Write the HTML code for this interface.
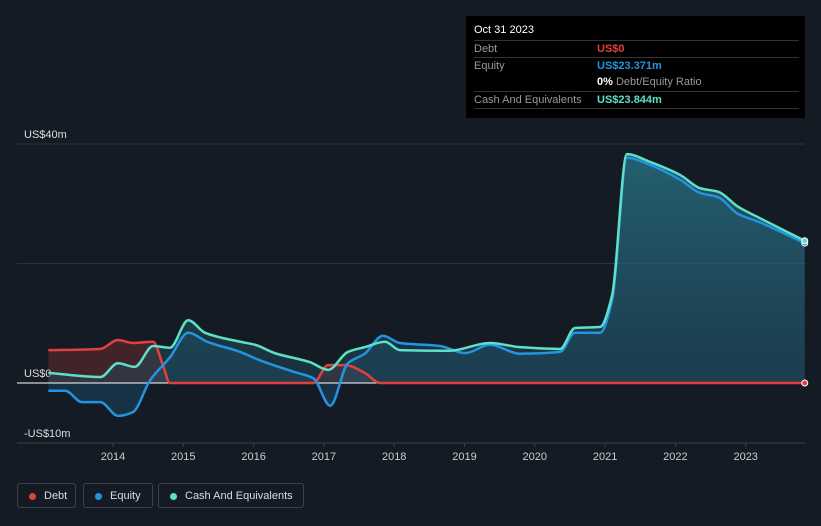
<!DOCTYPE html>
<html><head><meta charset="utf-8"><style>
body{margin:0;background:#151b24;font-family:"Liberation Sans",sans-serif;}
#wrap{position:relative;width:821px;height:526px;overflow:hidden;background:#151b24}
.tt{position:absolute;left:466px;top:16px;width:339px;height:102px;background:#000;color:#ccc;font-size:11px}
.tt .r{position:absolute;left:8px;width:325px;border-top:1px solid #333;height:16px;line-height:16px}
.leg{position:absolute;top:483px;height:25px;border:1px solid #3a414c;border-radius:3px;color:#ddd;font-size:11px;line-height:25px;box-sizing:border-box;padding-left:26px}
.leg i{position:absolute;left:11px;top:9px;width:7px;height:7px;border-radius:50%}
</style></head><body><div id="wrap">
<svg id="svg" width="821" height="526" style="position:absolute;left:0;top:0">
<defs><linearGradient id="gc" x1="0" y1="0" x2="0" y2="1"><stop offset="0" stop-color="#2d7f8c" stop-opacity="0.6"/><stop offset="1" stop-color="#1f4a5a" stop-opacity="0.45"/></linearGradient></defs>
</svg>
<div class="tt">
<div style="position:absolute;left:8px;top:8px;color:#fff;font-size:11px">Oct 31 2023</div>
<div class="r" style="top:24px"><span style="color:#999">Debt</span><span style="position:absolute;left:123px;color:#e0403e;font-weight:bold">US$0</span></div>
<div class="r" style="top:41px"><span style="color:#999">Equity</span><span style="position:absolute;left:123px;color:#2394df;font-weight:bold">US$23.371m</span></div>
<div class="r" style="top:58px;border-top:none"><span style="position:absolute;left:123px;color:#999"><b style="color:#fff">0%</b> Debt/Equity Ratio</span></div>
<div class="r" style="top:75px"><span style="color:#999">Cash And Equivalents</span><span style="position:absolute;left:123px;color:#5de0c6;font-weight:bold">US$23.844m</span></div>
<div class="r" style="top:92px;height:0"></div>
</div>
<div class="leg" style="left:17px;width:59px"><i style="background:#e0403e"></i>Debt</div>
<div class="leg" style="left:83px;width:70px"><i style="background:#2394df"></i>Equity</div>
<div class="leg" style="left:158px;width:146px"><i style="background:#5de0c6"></i>Cash And Equivalents</div>
</div>
<script>
const debtT=[2013.08,2013.82,2014.07,2014.28,2014.57,2014.71,2014.81,2016.85,2017.06,2017.30,2017.58,2017.80,2023.84];
const debtV=[5.5,5.7,7.2,6.7,6.9,3,0,0,3,3,1.7,0,0];
const eqT=[2013.08,2013.32,2013.56,2013.82,2014.07,2014.28,2014.53,2014.81,2015.07,2015.34,2015.81,2016.09,2016.59,2016.85,2017.09,2017.34,2017.58,2017.84,2018.08,2018.65,2019.01,2019.36,2019.79,2020.36,2020.57,2020.93,2021.10,2021.31,2021.64,2022.07,2022.35,2022.61,2022.89,2023.20,2023.84];
const eqV=[-1.3,-1.3,-3.2,-3.2,-5.5,-4.9,0.5,4.3,8.4,6.9,5.2,3.8,1.8,0.8,-3.8,3.3,4.9,7.9,6.7,6.2,5,6.4,4.9,5.2,8.4,8.4,13.9,37.7,36.5,34,31.8,31.1,28.3,26.9,23.4];
const cashT=[2013.08,2013.82,2014.07,2014.31,2014.57,2014.81,2015.07,2015.31,2015.81,2016.02,2016.30,2016.80,2017.06,2017.34,2017.58,2017.87,2018.08,2018.79,2019.36,2019.79,2020.36,2020.57,2020.93,2021.10,2021.31,2021.64,2022.07,2022.35,2022.61,2022.89,2023.20,2023.84];
const cashV=[1.7,1,3.3,2.7,6.2,5.9,10.5,8.4,6.9,6.4,5,3.5,2.2,5.2,6,6.9,5.5,5.4,6.7,6,5.7,9.2,9.4,14.7,38.3,37,34.8,32.6,32,29.5,27.6,23.8];
const yTicks=[40,20,0,-10];const yLabels=["US$40m","","US$0","-US$10m"];
const xTicks=[2014,2015,2016,2017,2018,2019,2020,2021,2022,2023];
const X=t=>113+(t-2014)*70.3, Y=v=>383-v*5.975;
const svg=document.getElementById('svg'),NS='http://www.w3.org/2000/svg';
function mk(tag,a,name){const e=document.createElementNS(NS,tag);for(const k in a)e.setAttribute(k,a[k]);


svg.appendChild(e);return e;}
function path(T,V){const x=T.map(X),y=V.map(Y),n=x.length;const d=[],m=new Array(n);
for(let i=0;i<n-1;i++)d.push((y[i+1]-y[i])/(x[i+1]-x[i]));
m[0]=d[0];m[n-1]=d[n-2];
for(let i=1;i<n-1;i++){if(d[i-1]*d[i]<=0)m[i]=0;else{const w1=2*(x[i+1]-x[i])+(x[i]-x[i-1]),w2=(x[i+1]-x[i])+2*(x[i]-x[i-1]);m[i]=(w1+w2)/(w1/d[i-1]+w2/d[i]);}}
let s='M'+x[0]+','+y[0];
for(let i=0;i<n-1;i++){const h=(x[i+1]-x[i])/3;s+=` C${x[i]+h},${y[i]+m[i]*h} ${x[i+1]-h},${y[i+1]-m[i+1]*h} ${x[i+1]},${y[i+1]}`;}
return s;}
yTicks.forEach((v,i)=>{if(v!==0&&v!==-10)mk('line',{x1:17,x2:805,y1:Y(v),y2:Y(v),stroke:'#2c333d','stroke-width':1},'gridline');
const t=mk('text',{x:24,y:Y(v)-6,fill:'#ddd','font-size':11,'font-family':'Liberation Sans'},'y-tick-label');t.textContent=yLabels[i];});
mk('line',{x1:17,x2:805,y1:443,y2:443,stroke:'#3a414c','stroke-width':1},'x-axis');
xTicks.forEach(y=>{mk('line',{x1:X(y),x2:X(y),y1:443,y2:447,stroke:'#3a414c'},'x-tick');
const t=mk('text',{x:X(y),y:460,fill:'#ccc','font-size':11,'text-anchor':'middle','font-family':'Liberation Sans'},'x-tick-label');t.textContent=y;});
const y0=Y(0);
function area(T,V,fill,name){const d=path(T,V)+` L${X(T[T.length-1])},${y0} L${X(T[0])},${y0} Z`;mk('path',{d,fill},name);}
area(debtT,debtV,'rgba(224,64,62,0.22)','debt-area');
area(eqT,eqV,'rgba(35,148,223,0.18)','equity-area');
area(cashT,cashV,'url(#gc)','cash-area');
mk('line',{x1:17,x2:805,y1:y0,y2:y0,stroke:'#fff','stroke-width':1},'zero-line');
mk('path',{d:path(debtT,debtV),fill:'none',stroke:'#e0403e','stroke-width':2.5},'debt-line');
mk('path',{d:path(eqT,eqV),fill:'none',stroke:'#2394df','stroke-width':2.5},'equity-line');
mk('path',{d:path(cashT,cashV),fill:'none',stroke:'#5de0c6','stroke-width':2.5},'cash-line');
const L=debtT.length-1;
mk('circle',{cx:X(debtT[L]),cy:Y(debtV[L]),r:3,fill:'#e0403e',stroke:'#fff','stroke-width':1},'debt-end-marker');
mk('circle',{cx:X(eqT[eqT.length-1]),cy:Y(eqV[eqV.length-1]),r:3,fill:'#2394df',stroke:'#fff','stroke-width':1},'equity-end-marker');
mk('circle',{cx:X(cashT[cashT.length-1]),cy:Y(cashV[cashV.length-1]),r:3,fill:'#5de0c6',stroke:'#fff','stroke-width':1},'cash-end-marker');
</script></body></html>
